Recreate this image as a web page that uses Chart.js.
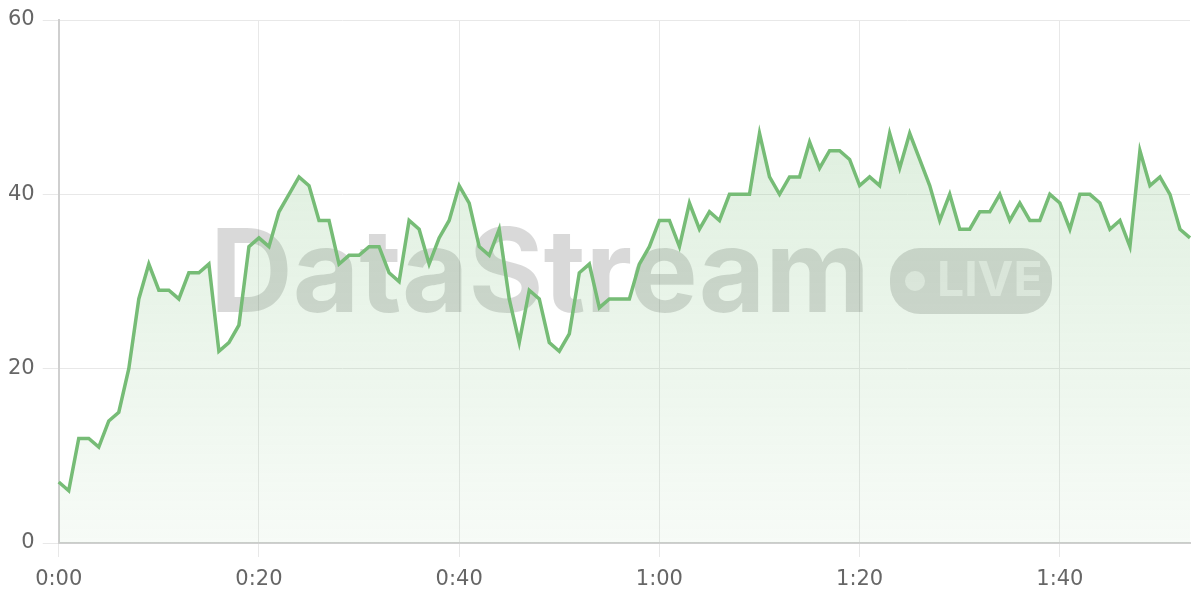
<!DOCTYPE html>
<html lang="en">
<head>
  <meta charset="UTF-8" />
  <title>DataStream Live</title>
  <script src="https://cdn.jsdelivr.net/npm/chart.js"></script>
  <style>
    html, body { margin: 0; padding: 0; background: #ffffff; }
    .wrap { width: 1200px; height: 600px; position: relative; }
  </style>
</head>
<body>
  <div class="wrap">
    <canvas id="streamChart"></canvas>
  </div>

  <script>
    // one reading per second, 0:00 .. 1:53
    const values = [
      7, 6, 12, 12, 11, 14, 15, 20, 28, 32,
      29, 29, 28, 31, 31, 32, 22, 23, 25, 34,
      35, 34, 38, 40, 42, 41, 37, 37, 32, 33,
      33, 34, 34, 31, 30, 37, 36, 32, 35, 37,
      41, 39, 34, 33, 36, 28, 23, 29, 28, 23,
      22, 24, 31, 32, 27, 28, 28, 28, 32, 34,
      37, 37, 34, 39, 36, 38, 37, 40, 40, 40,
      47, 42, 40, 42, 42, 46, 43, 45, 45, 44,
      41, 42, 41, 47, 43, 47, 44, 41, 37, 40,
      36, 36, 38, 38, 40, 37, 39, 37, 37, 40,
      39, 36, 40, 40, 39, 36, 37, 34, 45, 41,
      42, 40, 36, 35
    ];
    const labelEvery = 20;
    const yTicks = [0, 20, 40, 60];

    const times = values.map(function (v, i) {
      const m = Math.floor(i / 60);
      const s = i % 60;
      return m + ':' + (s < 10 ? '0' : '') + s;
    });

    const lineColor = '#76bc76';
    const font = { family: '"DejaVu Sans", sans-serif', size: 21, lineHeight: 1 };

    // big faded watermark behind the line
    const watermark = {
      id: 'watermark',
      beforeDatasetsDraw(chart) {
        const c = chart.ctx;
        c.save();
        c.fillStyle = 'rgba(0, 0, 0, 0.15)';
        c.textBaseline = 'alphabetic';
        c.textAlign = 'left';
        c.font = 'bold 116px Inter, "Noto Sans", sans-serif';
        const w = c.measureText('DataStream').width;
        c.save();
        c.translate(210, 312);
        c.scale(660 / w, 1);
        c.fillText('DataStream', 0, 0);
        c.restore();

        // LIVE pill
        const px = 890, py = 248, pw = 162, ph = 66, r = 30;
        c.beginPath();
        c.moveTo(px + r, py);
        c.arcTo(px + pw, py, px + pw, py + ph, r);
        c.arcTo(px + pw, py + ph, px, py + ph, r);
        c.arcTo(px, py + ph, px, py, r);
        c.arcTo(px, py, px + pw, py, r);
        c.closePath();
        c.fill();
        c.fillStyle = 'rgba(255, 255, 255, 0.55)';
        c.beginPath();
        c.arc(915, 281, 10, 0, Math.PI * 2);
        c.fill();
        c.font = 'bold 48px Inter, "Noto Sans", sans-serif';
        c.textBaseline = 'middle';
        c.fillText('LIVE', 937, 282);
        c.restore();
      }
    };

    const ctx = document.getElementById('streamChart').getContext('2d');
    const grad = ctx.createLinearGradient(0, 20, 0, 543);
    grad.addColorStop(0, 'rgba(118, 188, 118, 0.28)');
    grad.addColorStop(1, 'rgba(118, 188, 118, 0.06)');

    new Chart(ctx, {
      type: 'line',
      data: {
        labels: times,
        datasets: [{
          data: values,
          borderColor: lineColor,
          borderWidth: 3.5,
          backgroundColor: grad,
          fill: 'origin',
          pointRadius: 0,
          tension: 0
        }]
      },
      options: {
        responsive: true,
        maintainAspectRatio: false,
        animation: false,
        layout: { padding: { top: 20, right: 10, left: 0, bottom: -2 } },
        plugins: {
          legend: { display: false },
          tooltip: { enabled: false }
        },
        scales: {
          x: {
            grid: { color: '#e8e8e8', tickLength: 14 },
            border: { color: '#cfcfcf', width: 2 },
            ticks: {
              autoSkip: false,
              maxRotation: 0,
              color: '#666',
              font: font,
              padding: 12,
              callback: function (val, i) {
                return i % labelEvery === 0 ? times[i] : null;
              }
            }
          },
          y: {
            min: yTicks[0],
            max: yTicks[yTicks.length - 1],
            grid: { color: '#e8e8e8', tickLength: 16 },
            border: { color: '#cfcfcf', width: 2 },
            afterBuildTicks: function (axis) {
              axis.ticks = yTicks.map(function (v) { return { value: v }; });
            },
            ticks: { color: '#666', font: font, padding: 8 }
          }
        }
      },
      plugins: [watermark]
    });
  </script>
</body>
</html>
